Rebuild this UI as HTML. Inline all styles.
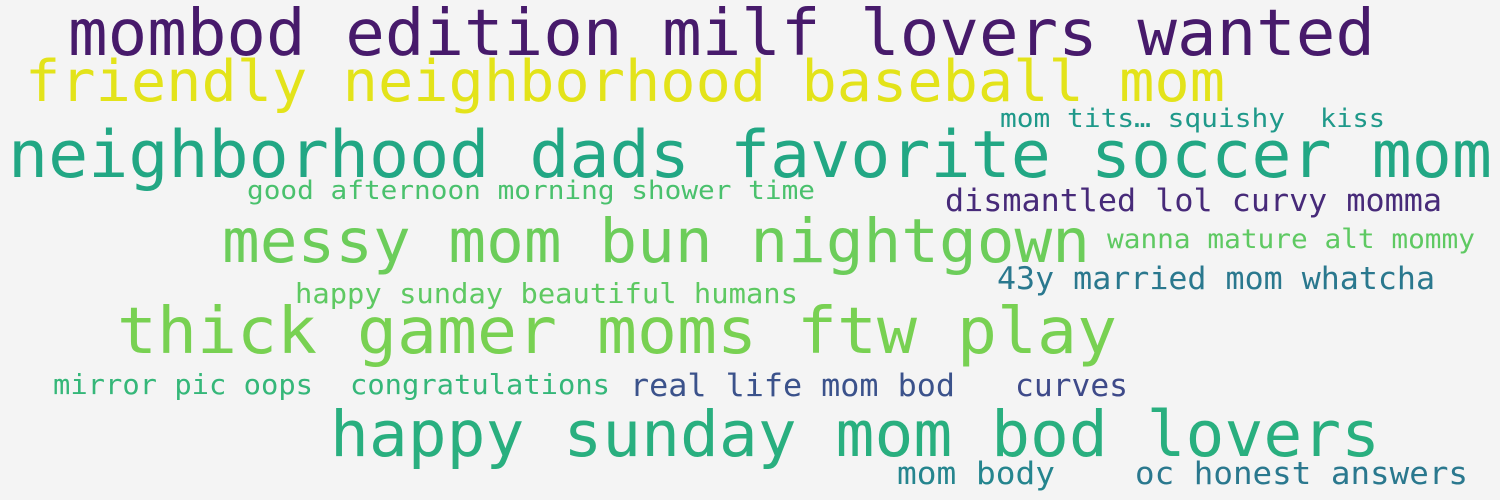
<!DOCTYPE html>
<html><head><meta charset="utf-8"><style>
html,body{margin:0;padding:0;background:#f4f4f4;}
svg{display:block;}
text{font-family:"DejaVu Sans Mono","Liberation Mono",monospace;}
</style></head><body>
<svg width="1500" height="500" viewBox="0 0 1500 500">
<rect width="1500" height="500" fill="#f4f4f4"/>
<g id="words"></g>
</svg>
<script>
const words = ["mombod edition milf lovers wanted","friendly neighborhood baseball mom","mom tits… squishy","kiss","neighborhood dads favorite soccer mom","good afternoon morning shower time","dismantled lol curvy momma","messy mom bun nightgown","wanna mature alt mommy","43y married mom whatcha","happy sunday beautiful humans","thick gamer moms ftw play","mirror pic oops","congratulations","real life mom bod","curves","happy sunday mom bod lovers","mom body","oc honest answers"];
const colors = ["#471a6b","#e3e31a","#1f998a","#1f998a","#22a784","#4ac16d","#472a79","#6ccd5a","#5ec962","#2a788e","#5ec962","#78d152","#35b779","#35b779","#3b528b","#3e4a89","#29af7f","#25858e","#2a788e"];
const xs = [68,25,1000,1320,8,247,945,222,1107,997,295,117,53,350,630,1015,330,897,1135];
const xe = [1375,1225,1285,1385,1492,815,1442,1090,1475,1435,798,1117,313,610,955,1128,1380,1055,1468];
const ys = [55,101,127,127,177,199,211,262,248,289,303,353,394,394,396,396,456,484,484];
const sizes = [64,57,26,26,65,26,31,61,27,31,28,64,28,28,31,31,63,31,31];
const g = document.getElementById('words');
words.forEach((w,i)=>{
  const t = document.createElementNS('http://www.w3.org/2000/svg','text');
  
  
  t.setAttribute('x', xs[i]);
  t.setAttribute('y', ys[i]);
  t.setAttribute('font-size', sizes[i]);
  t.setAttribute('fill', colors[i]);
  t.setAttribute('textLength', xe[i]-xs[i]);
  t.setAttribute('lengthAdjust', 'spacingAndGlyphs');
  t.textContent = w;
  g.appendChild(t);
});
</script>
</body></html>
